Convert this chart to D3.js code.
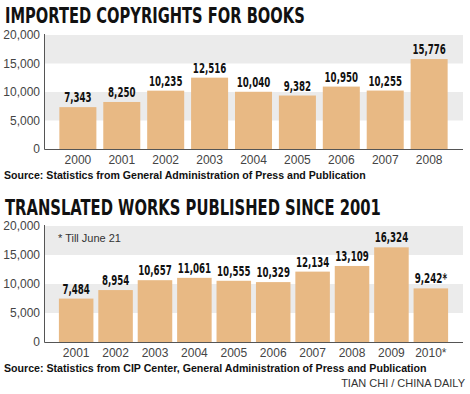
<!DOCTYPE html>
<html>
<head>
<meta charset="utf-8">
<script src="https://cdn.jsdelivr.net/npm/d3@7"></script>
<style>
  body { margin: 0; background: #fff; }
  svg { display: block; }
</style>
</head>
<body>
<svg id="chart" width="470" height="394"></svg>
<script>
// Data
var years1 = ["2000", "2001", "2002", "2003", "2004", "2005", "2006", "2007", "2008"];
var copyrights = [7343, 8250, 10235, 12516, 10040, 9382, 10950, 10255, 15776];

var years2 = ["2001", "2002", "2003", "2004", "2005", "2006", "2007", "2008", "2009", "2010*"];
var translated = [7484, 8954, 10657, 11061, 10555, 10329, 12134, 13109, 16324, 9242];
var labels2 = ["7,484", "8,954", "10,657", "11,061", "10,555", "10,329", "12,134", "13,109", "16,324", "9,242*"];

var yTicks = [0, 5000, 10000, 15000, 20000];

var svg = d3.select("#chart");
var barColor = "#e8b984";
var bandColor = "#ebebeb";
var condensed = "'DejaVu Sans Condensed', 'Liberation Sans Narrow', sans-serif";
var plain = "'Liberation Sans', Arial, sans-serif";

// Width of a condensed bold number label, per character type
function labelWidth(s) {
    var w = 0;
    s.split("").forEach(function (c) {
        w += c == "," ? 3 : (c == "*" ? 5 : 6.1);
    });
    return w;
}

// Squeeze a text horizontally so it spans the given width
// (a scale transform, so its box really is that wide)
function squeeze(sel, x, y, width) {
    sel.each(function (d, i) {
        var node = this;
        var w = typeof width == "function" ? width.call(node, d, i) : width;
        var px = typeof x == "function" ? x.call(node, d, i) : x;
        var py = typeof y == "function" ? y.call(node, d, i) : y;
        var s = w / node.getComputedTextLength();
        d3.select(node)
            .attr("x", 0).attr("y", 0)
            .attr("transform", "translate(" + px + "," + py + ") scale(" + s + ",1)");
    });
}

// Draw one panel: title, banded background, bars, labels, source line
function panel(opt) {
    var g = svg.append("g");

    // Title in heavy condensed caps
    g.append("text")
        .style("font-family", condensed)
        .style("font-weight", "bold")
        .style("font-size", "22px")
        .style("fill", "#111")
        .text(opt.title)
        .call(squeeze, 5, opt.titleY, opt.titleW);

    var x = d3.scaleBand()
        .domain(opt.cats)
        .range([44, 463])
        .paddingInner(opt.pi)
        .paddingOuter(opt.po);

    var y = d3.scaleLinear()
        .domain([0, 20000])
        .range([opt.y0, opt.y1]);

    // Gray bands for 5,000-10,000 and 15,000-20,000
    [[5000, 10000], [15000, 20000]].forEach(function (b) {
        g.append("rect")
            .attr("x", 45)
            .attr("width", 418)
            .attr("y", y(b[1]))
            .attr("height", y(b[0]) - y(b[1]))
            .style("fill", bandColor);
    });

    // Bars
    g.selectAll(".bar").data(opt.values).enter()
        .append("rect")
        .attr("class", "bar")
        .attr("x", function (d, i) { return x(opt.cats[i]); })
        .attr("width", x.bandwidth())
        .attr("y", function (d) { return y(d); })
        .attr("height", function (d) { return y(0) - y(d); })
        .style("fill", barColor);

    // Value labels above bars
    g.selectAll(".val").data(opt.values).enter()
        .append("text")
        .attr("class", "val")
        .text(function (d, i) { return opt.labels ? opt.labels[i] : d3.format(",")(d); })
        .attr("text-anchor", "middle")
        .style("font-family", condensed)
        .style("font-weight", "bold")
        .style("font-size", "13.5px")
        .style("fill", "#111")
        .call(squeeze,
            function (d, i) { return x(opt.cats[i]) + x.bandwidth() / 2; },
            function (d) { return y(d) - 5; },
            function () { return labelWidth(this.textContent); });

    // Y axis (labels only, plus the vertical line)
    var yAxis = d3.axisLeft(y)
        .tickValues(yTicks)
        .tickSize(0)
        .tickPadding(4)
        .tickFormat(d3.format(","));
    var ya = g.append("g")
        .attr("transform", "translate(44,0)")
        .call(yAxis);
    ya.select(".domain").remove();
    ya.selectAll("text")
        .style("font-family", plain)
        .style("font-size", "12px")
        .style("fill", "#444");

    // X axis labels
    var xAxis = d3.axisBottom(x).tickSize(0).tickPadding(6);
    var xa = g.append("g")
        .attr("transform", "translate(0," + opt.y0 + ")")
        .call(xAxis);
    xa.select(".domain").remove();
    xa.selectAll("text")
        .style("font-family", plain)
        .style("font-size", "12px")
        .style("fill", "#444");

    // Axis lines
    g.append("path")
        .attr("d", "M44.5," + (opt.y1 - 1) + "V" + (opt.y0 + 0.5) + "H463")
        .style("fill", "none")
        .style("stroke", "#555")
        .style("stroke-width", 1);

    // Source line
    g.append("text")
        .style("font-family", plain)
        .style("font-weight", "bold")
        .style("font-size", "11.5px")
        .style("fill", "#111")
        .text(opt.source)
        .call(squeeze, 4, opt.sourceY, opt.sourceW);

    return { g: g, x: x, y: y };
}

panel({
    title: "IMPORTED COPYRIGHTS FOR BOOKS",
    titleY: 23, titleW: 300,
    cats: years1, values: copyrights,
    pi: 0.157, po: 0.35,
    y0: 149, y1: 35,
    source: "Source: Statistics from General Administration of Press and Publication",
    sourceY: 179, sourceW: 362
});

var p2 = panel({
    title: "TRANSLATED WORKS PUBLISHED SINCE 2001",
    titleY: 215, titleW: 376,
    cats: years2, values: translated, labels: labels2,
    pi: 0.124, po: 0.378,
    y0: 342, y1: 226,
    source: "Source: Statistics from CIP Center, General Administration of Press and Publication",
    sourceY: 372, sourceW: 423
});

// Footnote inside the second chart
p2.g.append("text")
    .attr("x", 58)
    .attr("y", 242)
    .style("font-family", plain)
    .style("font-size", "11px")
    .style("fill", "#333")
    .text("* Till  June 21");

// Credit
svg.append("text")
    .attr("x", 465)
    .attr("y", 387)
    .attr("text-anchor", "end")
    .style("font-family", plain)
    .style("font-size", "11px")
    .style("fill", "#333")
    .text("TIAN CHI / CHINA DAILY");
</script>
</body>
</html>
